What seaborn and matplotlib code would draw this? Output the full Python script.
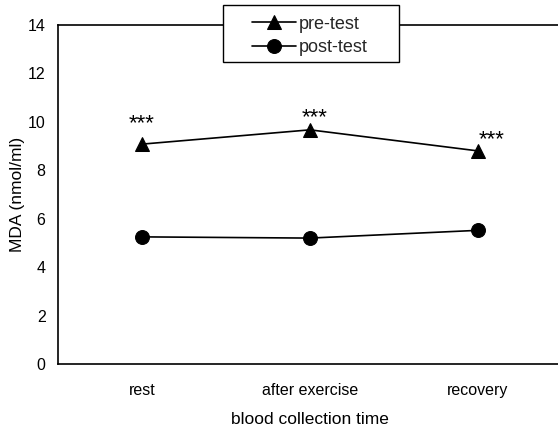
import numpy as np
import pandas as pd
import matplotlib
matplotlib.use('Agg')
import matplotlib.pyplot as plt
from matplotlib.patches import Rectangle
import seaborn as sns

times = ['rest', 'after exercise', 'recovery']
pre_test = [9.08, 9.67, 8.80]
post_test = [5.25, 5.20, 5.52]
stars = ['***', '***', '***']
star_dx = [0.0, 0.03, 0.08]
star_dy = [0.83, 0.50, 0.46]
y_ticks = [0, 2, 4, 6, 8, 10, 12, 14]

sns.set_theme(style='white')
plt.rcParams['font.family'] = ['Liberation Sans', 'DejaVu Sans']

df = pd.concat([
    pd.DataFrame({'time': times, 'MDA': pre_test, 'test': 'pre-test'}),
    pd.DataFrame({'time': times, 'MDA': post_test, 'test': 'post-test'}),
])

fig = plt.figure(figsize=(5.58, 4.30), dpi=100)
ax = fig.add_axes([58 / 558, 1 - 364 / 430, 504 / 558, 339 / 430])

sns.lineplot(data=df, x='time', y='MDA', hue='test', style='test',
             markers=['^', 'o'], dashes=False, palette=['black', 'black'],
             markersize=10, markeredgecolor='black', linewidth=1.2, ax=ax)

# significance marks
for i, (s, v) in enumerate(zip(stars, pre_test)):
    ax.text(i + star_dx[i], v + star_dy[i], s, ha='center', va='center',
            fontsize=16, color='black')

ax.set_xlim(-0.5, 2.5)
ax.set_ylim(0, 14)
ax.set_yticks(y_ticks)
ax.tick_params(axis='both', length=0, labelsize=11.5, colors='black')
ax.tick_params(axis='x', pad=14)
ax.tick_params(axis='y', pad=9)
ax.set_xlabel('blood collection time', fontsize=12.5, labelpad=10, color='black')
ax.set_ylabel('MDA (nmol/ml)', fontsize=12.5, labelpad=2, color='black')

for sp in ['left', 'bottom', 'top']:
    ax.spines[sp].set_color('black')
    ax.spines[sp].set_linewidth(1.2)
ax.spines['right'].set_visible(False)

# legend box (drawn over the top spine)
box = Rectangle((223 / 558, 1 - 62 / 430), 176 / 558, 57 / 430,
                transform=fig.transFigure, facecolor='white', edgecolor='black',
                linewidth=1.0, clip_on=False, zorder=4)
ax.add_patch(box)
leg = ax.legend(loc='center', bbox_to_anchor=(310 / 558, 1 - 36 / 430),
                bbox_transform=fig.transFigure, frameon=False,
                handlelength=2.45, fontsize=13, borderpad=0,
                labelspacing=0.38, handletextpad=0.15)
leg.set_zorder(5)

fig.savefig('out.png', dpi=100)
